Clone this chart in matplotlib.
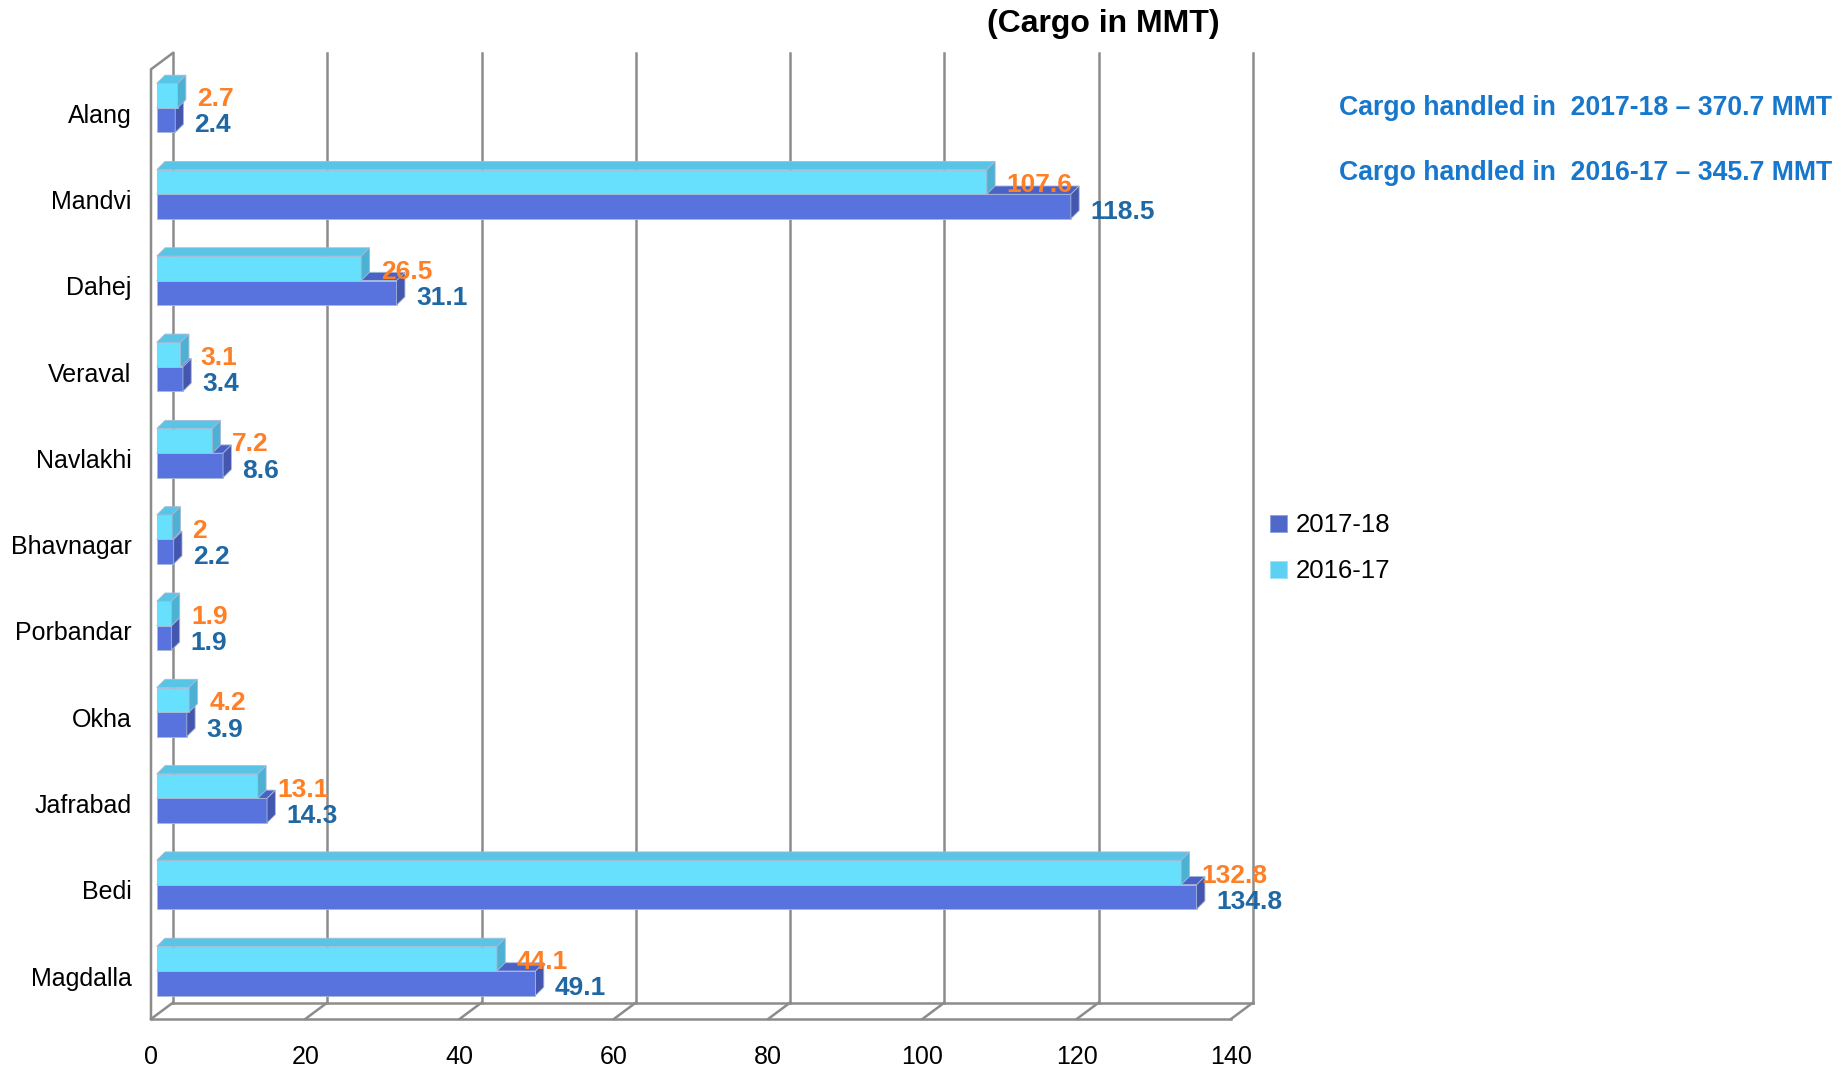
import matplotlib.pyplot as plt
from matplotlib.patches import Polygon, Patch

plt.rcParams['font.family'] = ['Liberation Sans', 'DejaVu Sans']

# port data (MMT)
ports = ["Alang", "Mandvi", "Dahej", "Veraval", "Navlakhi", "Bhavnagar",
         "Porbandar", "Okha", "Jafrabad", "Bedi", "Magdalla"]
cargo_2016_17 = [2.7, 107.6, 26.5, 3.1, 7.2, 2, 1.9, 4.2, 13.1, 132.8, 44.1]
cargo_2017_18 = [2.4, 118.5, 31.1, 3.4, 8.6, 2.2, 1.9, 3.9, 14.3, 134.8, 49.1]
x_ticks = [0, 20, 40, 60, 80, 100, 120, 140]
total_notes = ["Cargo handled in  2017-18 \u2013 370.7 MMT",
               "Cargo handled in  2016-17 \u2013 345.7 MMT"]

# colours
light_front, light_top, light_side = '#66E0FC', '#58C5E6', '#4DB1D4'
dark_front, dark_top, dark_side = '#5873DD', '#4A62C6', '#4456AE'
grid_col = '#8C8C8C'
orange = '#FF7F27'
navy = '#1F68A3'
note_col = '#1777CC'

# pseudo 3d geometry (data units)
DX, DY = 2.85, -0.19      # depth of walls
X0 = 0.74                 # bar start inside the box
H = 0.284                 # bar face height
TDX, TDY = 1.08, 0.096    # bar depth
Y_FLOOR, Y_TOP = 10.556, -0.448

W, Hpx = 1846, 1070
fig = plt.figure(figsize=(W / 100, Hpx / 100), dpi=100)
ax = fig.add_axes([151 / W, (Hpx - 1019) / Hpx, 1080 / W, (1019 - 69.3) / Hpx])
ax.set_xlim(0, 140)
ax.set_ylim(Y_FLOOR, Y_TOP)
for s in ax.spines.values():
    s.set_visible(False)

# walls and grid
lw = 1.8
for v in x_ticks:
    ax.plot([v + DX, v + DX], [Y_FLOOR + DY, Y_TOP + DY], color=grid_col, lw=lw, zorder=1, clip_on=False)
    ax.plot([v, v + DX], [Y_FLOOR, Y_FLOOR + DY], color=grid_col, lw=lw, zorder=1, clip_on=False)
ax.plot([DX, 140 + DX], [Y_FLOOR + DY, Y_FLOOR + DY], color=grid_col, lw=lw, zorder=1, clip_on=False)
ax.plot([0, 140], [Y_FLOOR, Y_FLOOR], color=grid_col, lw=lw, zorder=1, clip_on=False)
ax.plot([0, 0, DX], [Y_FLOOR, Y_TOP, Y_TOP + DY], color=grid_col, lw=lw, zorder=1, clip_on=False)

edge = dict(edgecolor='#A7B9D6', linewidth=0.6)
for i, (v1, v2) in enumerate(zip(cargo_2016_17, cargo_2017_18)):
    # 2017-18 (lower bar)
    ax.barh(i, v2, left=X0, height=H, align='edge', color=dark_front, zorder=3, **edge)
    ax.add_patch(Polygon([(X0, i), (X0 + v2, i), (X0 + v2 + TDX, i - TDY), (X0 + TDX, i - TDY)],
                         closed=True, facecolor=dark_top, zorder=3.1, **edge))
    ax.add_patch(Polygon([(X0 + v2, i), (X0 + v2 + TDX, i - TDY), (X0 + v2 + TDX, i + H - TDY), (X0 + v2, i + H)],
                         closed=True, facecolor=dark_side, zorder=3.2, **edge))
    # 2016-17 (upper bar)
    ax.barh(i - H, v1, left=X0, height=H, align='edge', color=light_front, zorder=4, **edge)
    ax.add_patch(Polygon([(X0, i - H), (X0 + v1, i - H), (X0 + v1 + TDX, i - H - TDY), (X0 + TDX, i - H - TDY)],
                         closed=True, facecolor=light_top, zorder=4.1, **edge))
    ax.add_patch(Polygon([(X0 + v1, i - H), (X0 + v1 + TDX, i - H - TDY), (X0 + v1 + TDX, i - TDY), (X0 + v1, i)],
                         closed=True, facecolor=light_side, zorder=4.2, **edge))
    # value labels
    ax.text(X0 + v1 + 2.6, i - H / 2 + 0.04, f"{v1:g}", color=orange, fontsize=19, fontweight='bold',
            ha='left', va='center', zorder=6)
    ax.text(X0 + v2 + 2.5, i + H / 2 + 0.06, f"{v2:g}", color=navy, fontsize=19, fontweight='bold',
            ha='left', va='center', zorder=6)

ax.set_yticks([i + 0.06 for i in range(len(ports))], ports)
ax.set_xticks(x_ticks, [str(t) for t in x_ticks])
ax.tick_params(axis='y', length=0, pad=14, labelsize=18)
ax.tick_params(axis='x', length=0, pad=19, labelsize=18)

fig.text(1103 / W, 1 - 24 / Hpx, "(Cargo in MMT)", ha='center', va='center', fontsize=23, fontweight='bold')
fig.text(1832 / W, 1 - 108 / Hpx, total_notes[0], ha='right', va='center', fontsize=19.2,
         fontweight='bold', color=note_col)
fig.text(1832 / W, 1 - 173 / Hpx, total_notes[1], ha='right', va='center', fontsize=19.2,
         fontweight='bold', color=note_col)

handles = [Patch(facecolor='#5068C8', edgecolor='#8DA0E0', linewidth=0.6),
           Patch(facecolor='#5ED0F2', edgecolor='#9DE3F7', linewidth=0.6)]
fig.legend(handles, ["2017-18", "2016-17"], loc='upper left', bbox_to_anchor=(1260 / W, 1 - 503 / Hpx),
           frameon=False, fontsize=18.5, handlelength=0.65, handleheight=0.65, handletextpad=0.35,
           labelspacing=0.85, borderaxespad=0)

fig.savefig("out.png", dpi=100, facecolor='white')
